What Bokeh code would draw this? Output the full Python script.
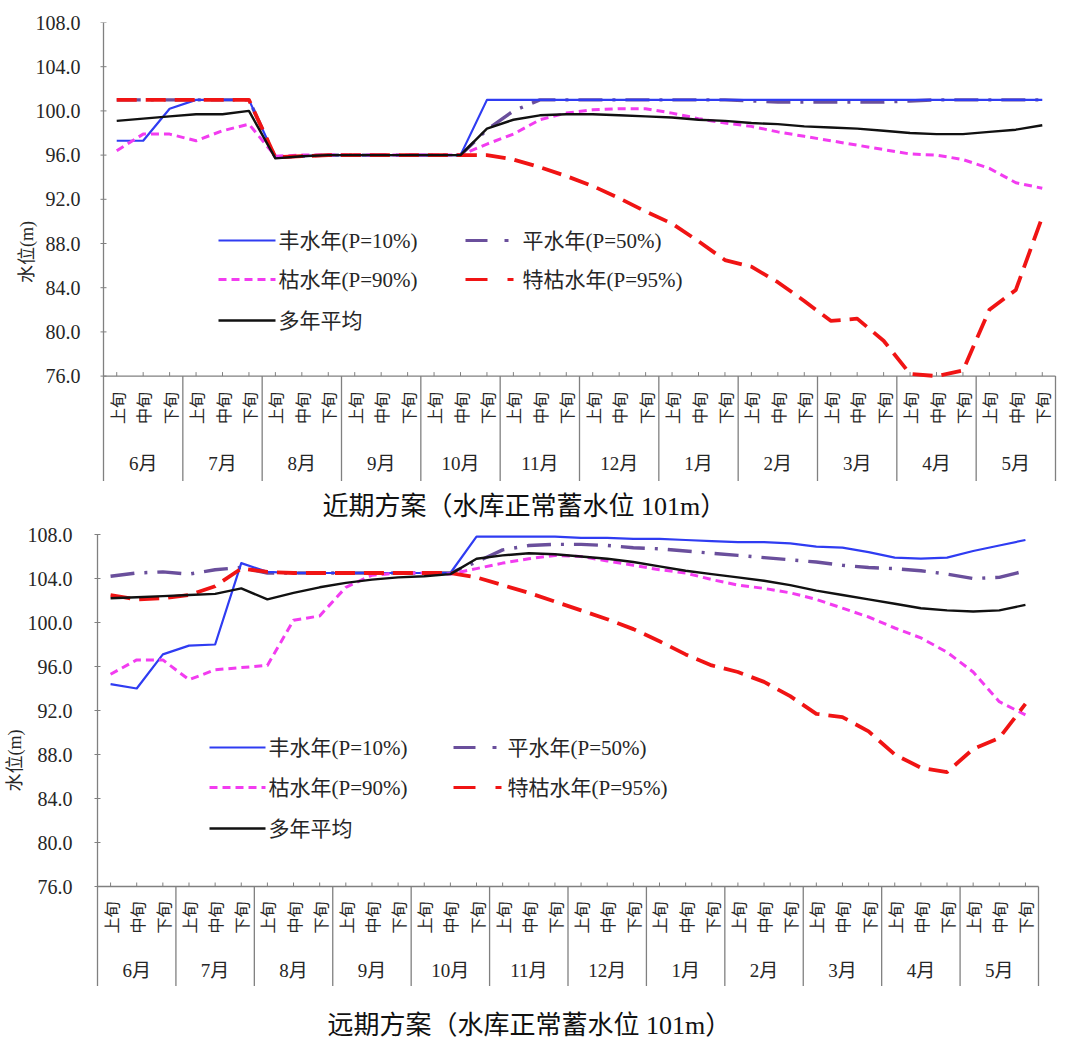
import math

from bokeh.core.properties import value
from bokeh.embed import file_html
from bokeh.layouts import column
from bokeh.models import FixedTicker, PrintfTickFormatter, Range1d
from bokeh.plotting import figure
from bokeh.resources import INLINE

# ---------------------------------------------------------------- data
months = ["6月", "7月", "8月", "9月", "10月", "11月", "12月", "1月", "2月", "3月", "4月", "5月"]
dekads = ["上旬", "中旬", "下旬"]
y_ticks = [76, 80, 84, 88, 92, 96, 100, 104, 108]

series_names = ["丰水年(P=10%)", "平水年(P=50%)", "枯水年(P=90%)", "特枯水年(P=95%)", "多年平均"]

# 近期方案 (water level, m) — one value per dekad, June to May
near_wet = [97.3, 97.3, 100.2, 101.0, 101.0, 101.0, 95.8, 95.9, 96.0, 96.0, 96.0, 96.0,
            96.0, 96.0, 101.0, 101.0, 101.0, 101.0, 101.0, 101.0, 101.0, 101.0, 101.0, 101.0,
            101.0, 101.0, 101.0, 101.0, 101.0, 101.0, 101.0, 101.0, 101.0, 101.0, 101.0, 101.0]
near_normal = [101.0, 101.0, 101.0, 101.0, 101.0, 101.0, 95.8, 95.9, 96.0, 96.0, 96.0, 96.0,
               96.0, 96.0, 98.3, 100.0, 101.0, 101.0, 101.0, 101.0, 101.0, 101.0, 101.0, 101.0,
               100.9, 100.8, 100.8, 100.8, 100.8, 100.8, 100.9, 101.0, 101.0, 101.0, 101.0, 101.0]
near_dry = [96.4, 97.9, 97.9, 97.3, 98.2, 98.8, 95.9, 96.0, 96.0, 96.0, 96.0, 96.0,
            96.0, 96.0, 97.0, 97.9, 99.2, 99.8, 100.1, 100.2, 100.2, 99.8, 99.3, 98.9,
            98.6, 98.1, 97.7, 97.3, 96.9, 96.5, 96.1, 96.0, 95.6, 94.8, 93.5, 93.0]
near_extreme = [101.0, 101.0, 101.0, 101.0, 101.0, 101.0, 95.8, 95.9, 96.0, 96.0, 96.0, 96.0,
                96.0, 96.0, 96.0, 95.6, 94.9, 94.1, 93.2, 92.1, 90.9, 89.8, 88.2, 86.5,
                85.9, 84.5, 82.8, 81.0, 81.2, 79.2, 76.2, 76.0, 76.5, 82.0, 83.8, 90.4]
near_avg = [99.1, 99.3, 99.5, 99.7, 99.7, 100.0, 95.7, 95.9, 96.0, 96.0, 96.0, 96.0,
            96.0, 96.0, 98.4, 99.2, 99.6, 99.7, 99.7, 99.6, 99.5, 99.4, 99.2, 99.1,
            98.9, 98.8, 98.6, 98.5, 98.4, 98.2, 98.0, 97.9, 97.9, 98.1, 98.3, 98.7]

# 远期方案 (water level, m)
far_wet = [94.4, 94.0, 97.1, 97.9, 98.0, 105.4, 104.6, 104.5, 104.5, 104.5, 104.5, 104.5,
           104.5, 104.5, 107.8, 107.8, 107.8, 107.8, 107.7, 107.7, 107.6, 107.6, 107.5, 107.4,
           107.3, 107.3, 107.2, 106.9, 106.8, 106.4, 105.9, 105.8, 105.9, 106.5, 107.0, 107.5]
far_normal = [104.2, 104.5, 104.6, 104.4, 104.8, 105.0, 104.5, 104.5, 104.5, 104.5, 104.5, 104.5,
              104.5, 104.5, 105.5, 106.6, 107.0, 107.1, 107.1, 107.0, 106.8, 106.7, 106.5, 106.3,
              106.1, 105.9, 105.7, 105.5, 105.2, 105.0, 104.9, 104.7, 104.4, 104.0, 104.1, 104.7]
far_dry = [95.3, 96.6, 96.6, 94.8, 95.7, 95.9, 96.1, 100.2, 100.6, 103.2, 104.3, 104.5,
           104.5, 104.4, 104.9, 105.4, 105.8, 106.1, 106.0, 105.6, 105.2, 104.8, 104.5, 103.9,
           103.4, 103.1, 102.7, 102.1, 101.3, 100.5, 99.5, 98.6, 97.3, 95.5, 92.8, 91.6]
far_extreme = [102.5, 102.1, 102.2, 102.5, 103.3, 104.9, 104.6, 104.5, 104.5, 104.5, 104.5, 104.5,
               104.5, 104.5, 104.1, 103.4, 102.7, 101.9, 101.1, 100.3, 99.4, 98.3, 97.1, 96.1,
               95.5, 94.6, 93.3, 91.7, 91.4, 90.1, 88.0, 86.8, 86.4, 88.5, 89.5, 92.6]
far_avg = [102.2, 102.3, 102.4, 102.5, 102.6, 103.1, 102.1, 102.7, 103.2, 103.6, 103.9, 104.1,
           104.2, 104.4, 105.8, 106.1, 106.3, 106.2, 106.0, 105.8, 105.5, 105.1, 104.7, 104.4,
           104.1, 103.8, 103.4, 102.9, 102.5, 102.1, 101.7, 101.3, 101.1, 101.0, 101.1, 101.6]

# ---------------------------------------------------------------- styling
SERIF_CJK = "'Liberation Serif', 'Noto Sans CJK SC'"
CJK = "'Noto Sans CJK SC'"
TEXT = "#262626"
GRID = "#808080"

styles = [
    dict(color="#2f3cf2", width=2.2, dash="solid", key_dash="solid"),
    dict(color="#6a4f9c", width=3.4, dash="24 10 3 10", key_dash="22 17 4 100"),
    dict(color="#f23cf0", width=3.0, dash="8 5", key_dash="8 5"),
    dict(color="#f01414", width=3.8, dash="20 9", key_dash="22 20 6 100"),
    dict(color="#111111", width=2.4, dash="solid", key_dash="solid"),
]
draw_order = [1, 0, 2, 3, 4]   # 平水年 underneath 丰水年

WIDTH = 1066
PAGE_H = 1045
# every figure in the column shares the same frame span, so the layout
# has nothing to re-align; a chart whose axis sits right of FRAME_L draws
# its own axis line and tick marks at that position
FRAME_L, FRAME_R = 97, 1059
TICK = 3


def make_chart(series, g):
    n = len(months) * len(dekads)
    off = g["offset"]
    top = g["top"] - off
    ppu = g["ppu"]
    y_lo, y_hi = y_ticks[0], y_ticks[-1]
    axis_px = top + (y_hi - y_lo) * ppu            # pixel row of the lowest tick
    table_bottom = int(round(axis_px + g["table"][2]))
    cat_px = (g["right"] - g["left"]) / n
    own_axis = g["left"] > FRAME_L

    def dx(px):
        return (px - g["left"]) / cat_px

    def dy(py_page):
        return y_hi - (py_page - off - top) / ppu

    y_start = y_hi - (table_bottom - top) / ppu
    p = figure(
        width=WIDTH, height=table_bottom,
        x_range=Range1d(dx(FRAME_L), dx(FRAME_R)), y_range=Range1d(y_start, y_hi),
        output_backend="svg", toolbar_location=None, x_axis_location=None,
        min_border_left=FRAME_L, min_border_right=WIDTH - FRAME_R,
        min_border_top=top, min_border_bottom=0,
        background_fill_color="white", border_fill_color="white",
    )
    p.outline_line_color = None
    p.grid.visible = False

    ax = p.yaxis[0]
    ax.ticker = FixedTicker(ticks=y_ticks)
    ax.formatter = PrintfTickFormatter(format="%.1f")
    ax.minor_tick_line_color = None
    ax.major_label_text_font = "'Liberation Serif'"
    ax.major_label_text_font_size = "20px"
    ax.major_label_text_color = TEXT
    ax.axis_label = "水位(m)"
    ax.axis_label_text_font = SERIF_CJK
    ax.axis_label_text_font_size = "18px"
    ax.axis_label_text_font_style = "normal"
    ax.axis_label_text_color = TEXT
    ax.axis_label_standoff = g["title_standoff"]
    shift = g["left"] - FRAME_L
    if own_axis:
        ax.axis_line_color = None
        ax.major_tick_line_color = None
        ax.major_tick_in = 0
        ax.major_tick_out = 0
        ax.major_label_standoff = g["standoff"] + TICK - shift
        # axis line continues down as the left edge of the category table
        p.segment(x0=[0], y0=[y_start], x1=[0], y1=[y_hi], line_color=GRID, line_width=1.3)
        p.segment(x0=[dx(g["left"] - TICK)] * len(y_ticks), y0=y_ticks,
                  x1=[dx(g["left"] + TICK)] * len(y_ticks), y1=y_ticks,
                  line_color=GRID, line_width=1)
    else:
        ax.axis_line_color = GRID
        ax.axis_line_width = 1.3
        ax.major_tick_line_color = GRID
        ax.major_tick_in = TICK
        ax.major_tick_out = TICK
        ax.major_label_standoff = g["standoff"]

    # category table under the plot area
    xs = [i + 0.5 for i in range(n)]
    d_off, m_off, _ = g["table"]
    p.segment(x0=[0], y0=[y_lo], x1=[n], y1=[y_lo], line_color=GRID, line_width=1.3)
    p.segment(x0=xs, y0=[y_lo] * n, x1=xs, y1=[y_lo + 4 / ppu] * n, line_color=GRID, line_width=1)
    seps = [3 * k for k in range(1, len(months) + 1)]
    p.segment(x0=seps, y0=[y_lo] * len(seps), x1=seps, y1=[y_start] * len(seps),
              line_color=GRID, line_width=1.3)
    p.text(x=xs, y=[y_lo - d_off / ppu] * n, text=dekads * len(months), angle=math.pi / 2,
           text_align="center", text_baseline="middle", text_font=value(CJK),
           text_font_size="16px", text_color=TEXT)
    p.text(x=[3 * k + 1.5 for k in range(len(months))], y=[y_lo - m_off / ppu] * len(months),
           text=months, text_align="center", text_baseline="middle",
           text_font=value(SERIF_CJK), text_font_size="19px", text_color=TEXT)

    # series
    for k in draw_order:
        st = styles[k]
        p.line(x=xs, y=series[k], line_color=st["color"], line_width=st["width"],
               line_dash=st["dash"], line_join="round")

    # key
    slots = [(0, 0), (0, 1), (1, 0), (1, 1), (2, 0)]
    for name, st, (r, c) in zip(series_names, styles, slots):
        x0, x1, tx = g["key_cols"][c]
        ky = dy(g["key_rows"][r])
        p.line(x=[dx(x0), dx(x1)], y=[ky, ky], line_color=st["color"],
               line_width=min(st["width"], 3.0), line_dash=st["key_dash"])
        p.text(x=[dx(tx)], y=[ky], text=[name], text_align="left", text_baseline="middle",
               text_font=value(SERIF_CJK), text_font_size="21px", text_color=TEXT)
    return p, off + table_bottom


def make_caption(text, top_page, bottom_page, anchor):
    h = bottom_page - top_page
    c = figure(width=WIDTH, height=h, x_range=Range1d(FRAME_L, FRAME_R), y_range=Range1d(h, 0),
               output_backend="svg", toolbar_location=None,
               x_axis_location=None, y_axis_location=None,
               min_border_left=FRAME_L, min_border_right=WIDTH - FRAME_R,
               min_border_top=0, min_border_bottom=0,
               background_fill_color="white", border_fill_color="white")
    c.outline_line_color = None
    c.grid.visible = False
    lx, cy = anchor
    c.text(x=[lx], y=[cy - top_page], text=[text], text_align="left", text_baseline="middle",
           text_font=value(SERIF_CJK), text_font_size="26px", text_color="#111111")
    return c


top_geo = dict(offset=0, left=103, right=1055, top=22, ppu=11.05, standoff=20, title_standoff=-4,
               table=(32, 87, 105),
               key_rows=[240, 279, 320], key_cols=[(218, 275, 278), (465, 517, 522)])
bottom_geo = dict(offset=523, left=97, right=1038, top=534, ppu=11.0, standoff=22, title_standoff=0,
                  table=(31, 84, 100),
                  key_rows=[747, 787, 828], key_cols=[(209, 265, 268), (453, 503, 507)])

p_near, near_end = make_chart([near_wet, near_normal, near_dry, near_extreme, near_avg], top_geo)
cap_near = make_caption("近期方案（水库正常蓄水位 101m）", near_end, bottom_geo["offset"], (322, 506))
p_far, far_end = make_chart([far_wet, far_normal, far_dry, far_extreme, far_avg], bottom_geo)
cap_far = make_caption("远期方案（水库正常蓄水位 101m）", far_end, PAGE_H, (327, 1025))

layout = column(p_near, cap_near, p_far, cap_far, spacing=0)
open("out.html", "w").write(file_html(layout, INLINE))
